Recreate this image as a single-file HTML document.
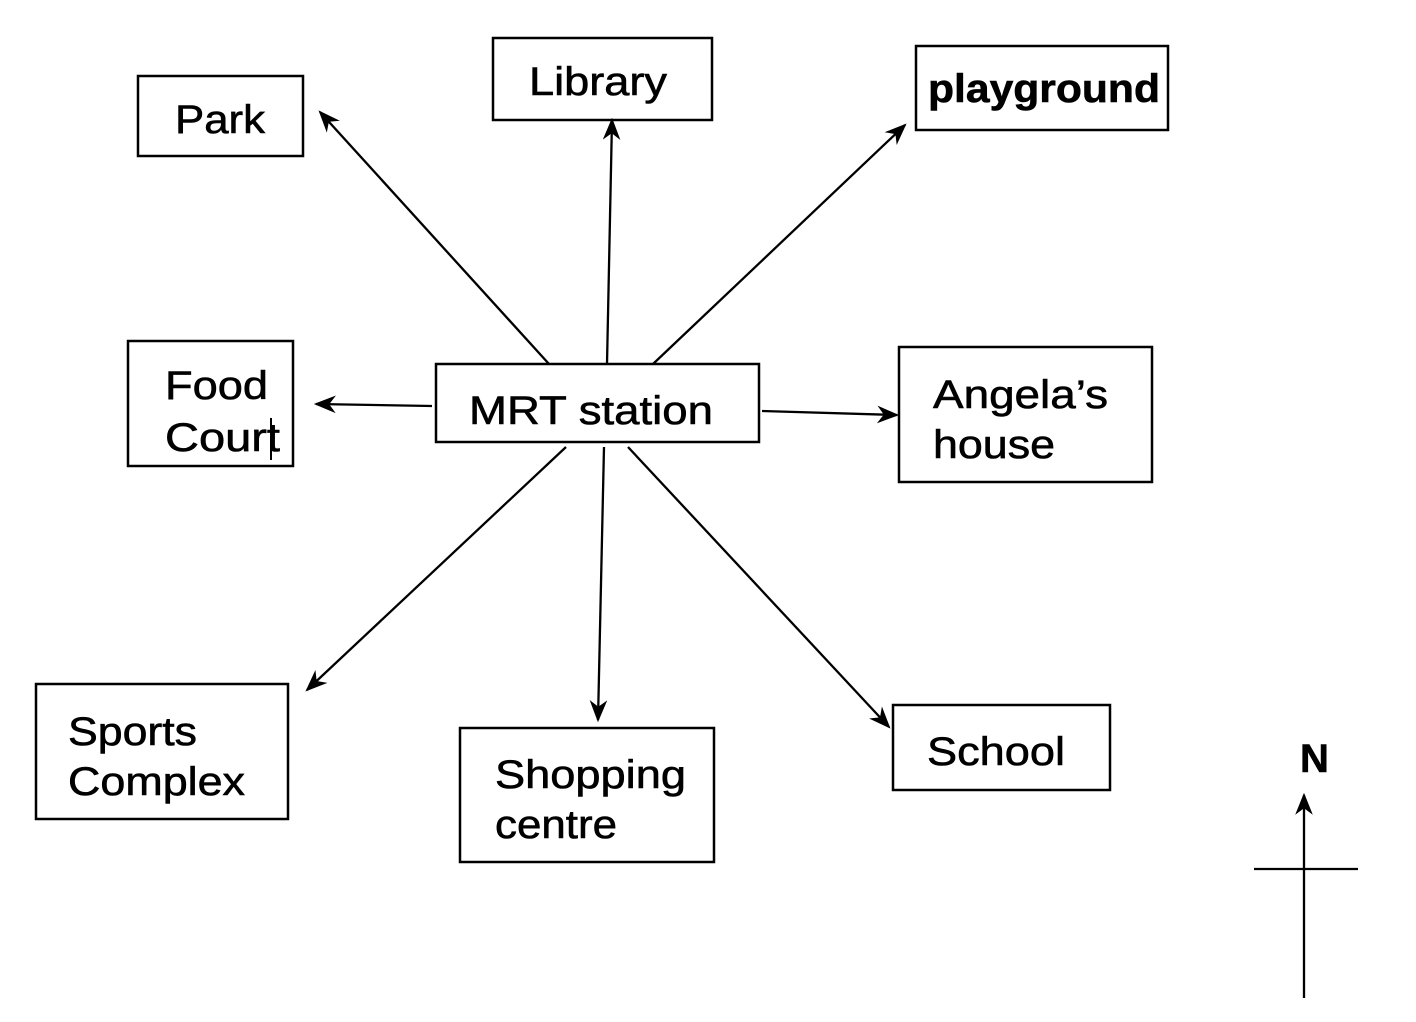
<!DOCTYPE html>
<html><head><meta charset="utf-8"><style>
html,body{margin:0;padding:0;background:#fff;}
svg{display:block}
text{font-family:"Liberation Sans",Arial,sans-serif;font-size:40px;fill:#000;stroke:#000;stroke-width:0.6}
</style></head><body>
<svg width="1416" height="1022" viewBox="0 0 1416 1022" xmlns="http://www.w3.org/2000/svg">
<defs>
<marker id="b" viewBox="0 0 10 10" refX="9" refY="5" markerWidth="22" markerHeight="22" markerUnits="userSpaceOnUse" orient="auto"><path d="M0,1 L10,5 L0,9 L3,5 Z" fill="#000"/></marker></defs>
<g fill="none" stroke="#000" stroke-width="2.5">
<rect x="138" y="76" width="165" height="80"/>
<rect x="493" y="38" width="219" height="82"/>
<rect x="916" y="46" width="252" height="84"/>
<rect x="128" y="341" width="165" height="125"/>
<rect x="436" y="364" width="323" height="78"/>
<rect x="899" y="347" width="253" height="135"/>
<rect x="36" y="684" width="252" height="135"/>
<rect x="460" y="728" width="254" height="134"/>
<rect x="893" y="705" width="217" height="85"/>
</g>
<g stroke="#000" stroke-width="2.3" marker-end="url(#b)">
<line x1="549" y1="364" x2="320" y2="112"/>
<line x1="607" y1="364" x2="612" y2="120"/>
<line x1="653" y1="364" x2="905" y2="125"/>
<line x1="432" y1="406" x2="316" y2="404"/>
<line x1="762" y1="411" x2="897" y2="415"/>
<line x1="566" y1="447" x2="307" y2="690"/>
<line x1="604" y1="447" x2="598" y2="720"/>
<line x1="628" y1="447" x2="889" y2="727"/>
<line x1="1304" y1="998" x2="1304" y2="795"/>
</g>
<line x1="1254" y1="869" x2="1358" y2="869" stroke="#000" stroke-width="2.3"/>
<text x="175" y="133" textLength="90" lengthAdjust="spacingAndGlyphs">Park</text>
<text x="529" y="95" textLength="138" lengthAdjust="spacingAndGlyphs">Library</text>
<text x="928" y="102" font-weight="bold" textLength="232" lengthAdjust="spacingAndGlyphs">playground</text>
<text x="165" y="399" textLength="103" lengthAdjust="spacingAndGlyphs">Food</text>
<text x="165" y="451" textLength="115" lengthAdjust="spacingAndGlyphs">Court</text>
<line x1="271" y1="418" x2="271" y2="460" stroke="#000" stroke-width="2"/>
<text x="469" y="424" textLength="244" lengthAdjust="spacingAndGlyphs">MRT station</text>
<text x="933" y="408" textLength="175" lengthAdjust="spacingAndGlyphs">Angela’s</text>
<text x="933" y="458" textLength="122" lengthAdjust="spacingAndGlyphs">house</text>
<text x="68" y="745" textLength="129" lengthAdjust="spacingAndGlyphs">Sports</text>
<text x="68" y="795" textLength="177" lengthAdjust="spacingAndGlyphs">Complex</text>
<text x="495" y="788" textLength="191" lengthAdjust="spacingAndGlyphs">Shopping</text>
<text x="495" y="838" textLength="122" lengthAdjust="spacingAndGlyphs">centre</text>
<text x="927" y="765" textLength="138" lengthAdjust="spacingAndGlyphs">School</text>
<text x="1300" y="772" font-size="34" font-weight="bold">N</text>
</svg>
</body></html>
